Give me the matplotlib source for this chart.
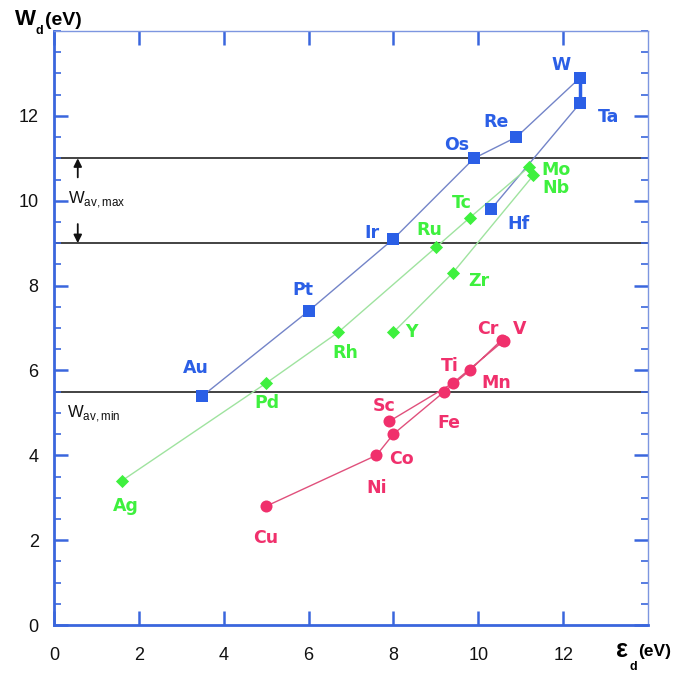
import matplotlib
matplotlib.use("Agg")
import matplotlib.pyplot as plt
from matplotlib.ticker import FixedLocator, MultipleLocator

plt.rcParams['mathtext.fontset'] = 'custom'
plt.rcParams['mathtext.rm'] = 'Liberation Sans'
plt.rcParams['mathtext.bf'] = 'Liberation Sans:bold'

# 5d transition metals (in row order, joined by a line)
el_5d = ["Hf", "Ta", "W", "Re", "Os", "Ir", "Pt", "Au"]
eps_5d = [10.3, 12.4, 12.4, 10.9, 9.9, 8.0, 6.0, 3.5]
wd_5d = [9.8, 12.3, 12.9, 11.5, 11.0, 9.1, 7.4, 5.4]

# 4d transition metals
el_4d = ["Y", "Zr", "Nb", "Mo", "Tc", "Ru", "Rh", "Pd", "Ag"]
eps_4d = [8.0, 9.4, 11.3, 11.2, 9.8, 9.0, 6.7, 5.0, 1.6]
wd_4d = [6.9, 8.3, 10.6, 10.8, 9.6, 8.9, 6.9, 5.7, 3.4]

# 3d transition metals
el_3d = ["Sc", "Ti", "V", "Cr", "Mn", "Fe", "Co", "Ni", "Cu"]
eps_3d = [7.9, 9.4, 10.6, 10.55, 9.8, 9.2, 8.0, 7.6, 5.0]
wd_3d = [4.8, 5.7, 6.7, 6.72, 6.0, 5.5, 4.5, 4.0, 2.8]

# reference levels of the average work function
w_av_max = [11.0, 9.0]
w_av_min = 5.5

tick_vals = [0, 2, 4, 6, 8, 10, 12]

BLUE, BLUE_LINE = "#2b5fe6", "#7384c8"
GREEN, GREEN_LINE = "#3ef03e", "#9fe39f"
RED, RED_LINE = "#f0306c", "#e0507c"
AX_BLUE = "#3a66dd"

# label offsets in pixels relative to each point
off_5d = {"Hf": (27, -15), "Ta": (28, -14), "W": (-19, 13), "Re": (-20, 15),
          "Os": (-17, 13), "Ir": (-21, 6), "Pt": (-6, 21), "Au": (-7, 28)}
off_4d = {"Y": (18, 0), "Zr": (26, -8), "Nb": (22, -13), "Mo": (27, -3),
          "Tc": (-8, 15), "Ru": (-7, 17), "Rh": (7, -21), "Pd": (1, -20),
          "Ag": (4, -25)}
off_3d = {"Sc": (-5, 15), "Ti": (-3, 17), "V": (16, 12), "Cr": (-14, 11),
          "Mn": (26, -13), "Fe": (5, -31), "Co": (8, -25), "Ni": (0, -33),
          "Cu": (0, -32)}

fig = plt.figure(figsize=(6.73, 6.79), dpi=100)
ax = fig.add_axes([54 / 673, 54 / 679, 594 / 673, 594 / 679])
ax.set_xlim(0, 14)
ax.set_ylim(0, 14)

for y in w_av_max + [w_av_min]:
    ax.axhline(y, color="#222222", lw=1.2, zorder=1)

# connecting lines
ax.plot(eps_5d, wd_5d, color=BLUE_LINE, lw=1.0, zorder=2)
ax.plot(eps_5d[1:3], wd_5d[1:3], color=BLUE, lw=2.5, zorder=2)
ax.plot(eps_4d, wd_4d, color=GREEN_LINE, lw=1.0, zorder=2)
ax.plot(eps_3d, wd_3d, color=RED_LINE, lw=1.0, zorder=2)

ax.scatter(eps_5d, wd_5d, marker="s", s=70, color=BLUE, zorder=3, lw=0)
ax.scatter(eps_4d, wd_4d, marker="D", s=45, color=GREEN, zorder=3, lw=0)
ax.scatter(eps_3d, wd_3d, marker="o", s=75, color=RED, zorder=3, lw=0)

lab_kw = dict(textcoords="offset pixels", ha="center", va="center",
              fontsize=12.5, fontweight="bold", family="DejaVu Sans", zorder=4)
for names, xs, ys, offs, col in [(el_5d, eps_5d, wd_5d, off_5d, BLUE),
                                 (el_4d, eps_4d, wd_4d, off_4d, GREEN),
                                 (el_3d, eps_3d, wd_3d, off_3d, RED)]:
    for n, x, y in zip(names, xs, ys):
        ax.annotate(n, (x, y), xytext=offs[n], color=col, **lab_kw)

# W_av annotations
ax.text(0.32, 9.93, r"W$_{\mathrm{av,max}}$", fontsize=12, family="Liberation Sans",
        ha="left", va="baseline", color="#111111")
ax.text(0.3, 4.89, r"W$_{\mathrm{av,min}}$", fontsize=12, family="Liberation Sans",
        ha="left", va="baseline", color="#111111")
ax.annotate("", xy=(0.56, 11.0), xytext=(0.56, 10.55),
            arrowprops=dict(arrowstyle="-|>", color="#111111", lw=1.3,
                            mutation_scale=12, shrinkA=0, shrinkB=0))
ax.annotate("", xy=(0.56, 9.0), xytext=(0.56, 9.45),
            arrowprops=dict(arrowstyle="-|>", color="#111111", lw=1.3,
                            mutation_scale=12, shrinkA=0, shrinkB=0))

# axes styling
for side in ["left", "bottom"]:
    ax.spines[side].set_color(AX_BLUE)
    ax.spines[side].set_linewidth(2.0)
for side in ["top", "right"]:
    ax.spines[side].set_color("#7d96e0")
    ax.spines[side].set_linewidth(1.0)

ax.xaxis.set_major_locator(FixedLocator(tick_vals))
ax.yaxis.set_major_locator(FixedLocator(tick_vals))
ax.yaxis.set_minor_locator(MultipleLocator(0.5))
ax.tick_params(axis="both", which="major", direction="in", length=10,
               width=1.8, color=AX_BLUE, top=True, right=True,
               labelsize=13, labelcolor="#111111")
ax.tick_params(axis="y", which="minor", direction="in", length=5,
               width=1.2, color=AX_BLUE, right=True)
ax.tick_params(axis="x", which="major", pad=16)
ax.tick_params(axis="y", which="major", pad=11)
for lab in ax.get_xticklabels() + ax.get_yticklabels():
    lab.set_family("Liberation Sans")

# axis titles
fig.text(15 / 673, 1 - 25 / 679, "W", fontsize=16, fontweight="bold",
         family="Liberation Sans", ha="left", va="baseline")
fig.text(36 / 673, 1 - 34 / 679, "d", fontsize=9, fontweight="bold",
         family="Liberation Sans", ha="left", va="baseline")
fig.text(45 / 673, 1 - 25 / 679, "(eV)", fontsize=14, fontweight="bold",
         family="Liberation Sans", ha="left", va="baseline")

fig.text(616 / 673, 1 - 657 / 679, "\u03b5", fontsize=18, fontweight="bold",
         family="Liberation Sans", ha="left", va="baseline")
fig.text(629 / 673, 1 - 670 / 679, "d", fontsize=9, fontweight="bold",
         family="Liberation Sans", ha="left", va="baseline")
fig.text(638 / 673, 1 - 656 / 679, "(eV)", fontsize=12.5, fontweight="bold",
         family="Liberation Sans", ha="left", va="baseline")

fig.savefig("out.png", dpi=100)
